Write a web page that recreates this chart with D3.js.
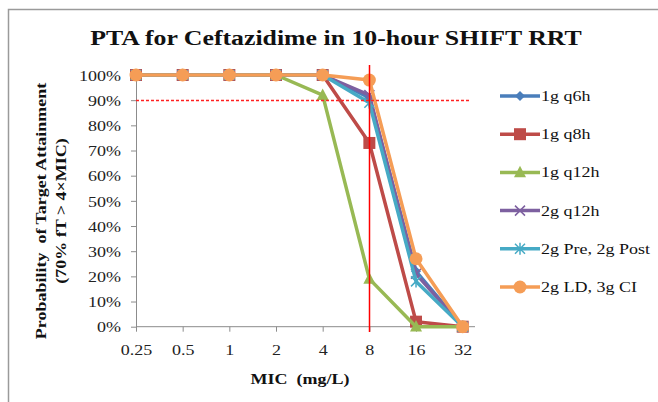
<!DOCTYPE html>
<html><head><meta charset="utf-8">
<script src="https://cdn.jsdelivr.net/npm/d3@7"></script>
<style>body{margin:0;background:#fff;} svg{display:block;} text{white-space:pre;}</style>
</head><body>
<script>
const categories = ["0.25","0.5","1","2","4","8","16","32"];
const seriesNames = ["1g q6h","1g q8h","1g q12h","2g q12h","2g Pre, 2g Post","2g LD, 3g CI"];
const s_1g_q6h   = [100,100,100,100,100,91,22,0];
const s_1g_q8h   = [100,100,100,100,100,73,2,0];
const s_1g_q12h  = [100,100,100,100,92,19,0,0];
const s_2g_q12h  = [100,100,100,100,100,92,21,0];
const s_2g_prepost = [100,100,100,100,100,89,18,0];
const s_2g_ld_ci = [100,100,100,100,100,98,27,0];
const yTicks = [0,10,20,30,40,50,60,70,80,90,100];
const targetPTA = 90;
const breakpointMIC = "8";

const seriesValues = [s_1g_q6h, s_1g_q8h, s_1g_q12h, s_2g_q12h, s_2g_prepost, s_2g_ld_ci];
const colors = ["#4a7ebb","#be4b48","#98b954","#7d60a0","#46aac5","#f59d56"];
const symbols = ["diamond","square","triangle","x","star","circle"];

const W = 658, H = 402;
const SX = 1.2; // horizontal stretch of text
const svg = d3.select("body").append("svg").attr("width", W).attr("height", H);
svg.append("rect").attr("width",W).attr("height",H).attr("fill","#fff");
svg.append("path").attr("d","M8.5,402 L8.5,9.5 L658,9.5").attr("fill","none").attr("stroke","#9a9a9a").attr("stroke-width",1.5);

const x = d3.scalePoint().domain(categories).range([136, 462.7]);
const y = d3.scaleLinear().domain([0,100]).range([326.7, 75]);

const font = "'Liberation Serif', 'Times New Roman', serif";

function stext(px, py, str, size, bold, anchor) {
  return svg.append("text").attr("transform", `translate(${px},${py}) scale(${SX},1)`)
    .attr("text-anchor", anchor || "start")
    .attr("font-family", font).attr("font-weight", bold ? "bold" : "normal").attr("font-size", size)
    .attr("fill", "#111").text(str);
}

stext(336, 45, "PTA for Ceftazidime in 10-hour SHIFT RRT", 21.5, true, "middle");

// axes
const yAxis = d3.axisLeft(y).tickValues(yTicks).tickFormat(d => d + "%").tickSize(5).tickSizeOuter(0);
const gy = svg.append("g").attr("transform","translate(136,0)").call(yAxis);
const xAxis = d3.axisBottom(x).tickSize(5).tickSizeOuter(0);
const gx = svg.append("g").attr("transform","translate(0,326.7)").call(xAxis);
[gy,gx].forEach(g => {
  g.selectAll("path,line").attr("stroke","#8c8c8c");
  g.selectAll("text").attr("font-family", font).attr("font-size", 15).attr("fill","#222")
    .attr("transform", `scale(${SX},1)`);
});
gy.selectAll("text").attr("x",-15/SX).attr("dy","0.35em");
gx.selectAll("text").attr("y",18).attr("dy","0.71em");
gx.select(".domain").attr("d","M136,0H475");

// axis titles
stext(300, 384, "MIC  (mg/L)", 15, true, "middle");
const yt = svg.append("text").attr("transform",`translate(46,211) rotate(-90) scale(${SX},1)`).attr("text-anchor","middle")
  .attr("font-family", font).attr("font-weight","bold").attr("font-size", 15).attr("fill","#111");
yt.append("tspan").attr("x",0).attr("y",0).text("Probability  of Target Attainment");
yt.append("tspan").attr("x",0).attr("y",20).text("(70% fT > 4×MIC)");

function symbolPath(type, size) {
  const s = size;
  switch(type) {
    case "diamond": return `M0,${-s}L${s},0L0,${s}L${-s},0Z`;
    case "square": return `M${-s},${-s}H${s}V${s}H${-s}Z`;
    case "triangle": return `M0,${-s*1.1}L${s},${s*0.8}L${-s},${s*0.8}Z`;
    case "x": return `M${-s},${-s}L${s},${s}M${-s},${s}L${s},${-s}`;
    case "star": return `M${-s},${-s}L${s},${s}M${-s},${s}L${s},${-s}M0,${-s*1.2}V${s*1.2}`;
    case "circle": return d3.symbol(d3.symbolCircle, Math.PI*s*s)();
  }
}
const markerSize = [5,6,6,5,5,6.5];

const line = d3.line().x((d,i)=>x(categories[i])).y(d=>y(d));
seriesValues.forEach((vals, k) => {
  const g = svg.append("g");
  g.append("path").attr("d", line(vals)).attr("fill","none").attr("stroke",colors[k]).attr("stroke-width",3.5).attr("stroke-linejoin","round");
  vals.forEach((v,i) => {
    const t = symbols[k];
    const stroked = (t === "x" || t === "star");
    g.append("path").attr("d", symbolPath(t, markerSize[k]))
      .attr("transform", `translate(${x(categories[i])},${y(v)})`)
      .attr("fill", stroked ? "none" : colors[k])
      .attr("stroke", stroked ? colors[k] : "none").attr("stroke-width", 1.5);
  });
});

// reference lines (on top)
svg.append("line").attr("x1",136).attr("x2",469).attr("y1",Math.round(y(targetPTA))+0.5).attr("y2",Math.round(y(targetPTA))+0.5)
  .attr("stroke","#ff2020").attr("stroke-width",1.3).attr("stroke-dasharray","3,2");
const vx = Math.round(x(breakpointMIC))+0.5;
svg.append("line").attr("x1",vx).attr("x2",vx).attr("y1",65).attr("y2",332)
  .attr("stroke","#ff0000").attr("stroke-width",1.5);

// legend
seriesNames.forEach((name, k) => {
  const ly = 96 + k*38.2;
  svg.append("line").attr("x1",500).attr("x2",540).attr("y1",ly).attr("y2",ly).attr("stroke",colors[k]).attr("stroke-width",3.5);
  const t = symbols[k];
  const stroked = (t === "x" || t === "star");
  svg.append("path").attr("d", symbolPath(t, markerSize[k]))
    .attr("transform", `translate(520,${ly})`)
    .attr("fill", stroked ? "none" : colors[k])
    .attr("stroke", stroked ? colors[k] : "none").attr("stroke-width",1.5);
  stext(541, ly + 5, name, 15, false, "start");
});
</script>
</body></html>
